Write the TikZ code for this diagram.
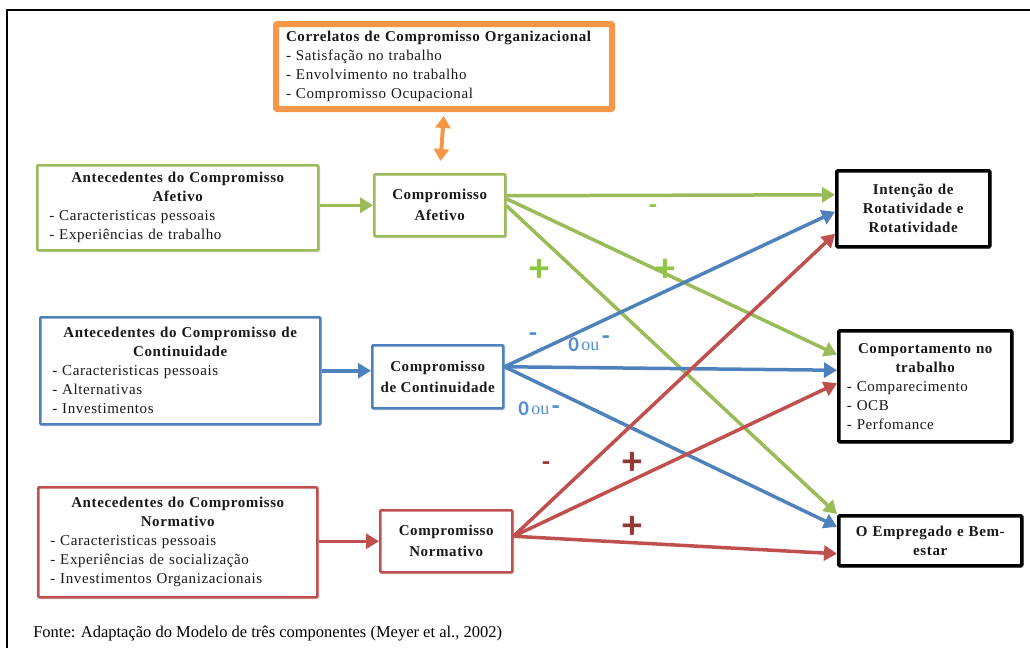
\documentclass[tikz,border=0pt]{standalone}
\usepackage{fontspec}
\setmainfont{Liberation Serif}
\newfontfamily\caixafont[LetterSpace=4]{Liberation Serif}
\newfontfamily\sinalfont[Numbers=Lining]{Carlito}
\usetikzlibrary{arrows.meta,shadows}

\definecolor{verde}{HTML}{9BBB59}
\definecolor{azul}{HTML}{4F81BD}
\definecolor{vermelho}{HTML}{C0504D}
\definecolor{laranja}{HTML}{F79646}
\definecolor{verdesinal}{HTML}{8DC63F}
\definecolor{azulsinal}{HTML}{558ED5}
\definecolor{vermelhosinal}{HTML}{953735}

\tikzset{
  caixa/.style={draw,line width=2.5pt,fill=white,rounded corners=1pt,anchor=north west,
    inner xsep=12pt,inner ysep=0pt,align=left,text=black!90,
    drop shadow={shadow xshift=2pt,shadow yshift=-2pt,opacity=.25},
    font=\caixafont\fontsize{15}{19}\selectfont},
  compbox/.style={caixa,align=center,inner xsep=2pt,font=\caixafont\bfseries\fontsize{15}{21}\selectfont},
  saida/.style={caixa,draw=black,line width=3.5pt,inner xsep=8pt},
  seta/.style={line width=3.5pt,-{Triangle[length=13pt,width=15pt]}},
  sinal/.style={inner sep=0pt,font=\sinalfont\bfseries\fontsize{26}{26}\selectfont},
  mais/.style={sinal,font=\sinalfont\bfseries\fontsize{40}{40}\selectfont},
  zeroou/.style={inner sep=0pt,text=azulsinal}
}

\begin{document}
\begin{tikzpicture}[x=1pt,y=-1pt,line width=.5pt]
\path[use as bounding box] (0,0) rectangle (1030,648);
\draw[line width=2pt] (7,648) -- (7,10) -- (1030,10);

% correlatos
\node[caixa,draw=laranja,line width=6pt,text width=316,inner xsep=10pt,minimum height=85] (correlatos) at (273,21)
  {\textbf{Correlatos de Compromisso Organizacional}\\- Satisfação no trabalho\\- Envolvimento no trabalho\\- Compromisso Ocupacional};

% antecedentes
\node[caixa,draw=verde,text width=257,minimum height=85] (antafetivo) at (36,164)
  {{\centering\bfseries Antecedentes do Compromisso\\Afetivo\par}- Caracteristicas pessoais\\- Experiências de trabalho};
\node[caixa,draw=azul,text width=256,minimum height=107] (antcontinuidade) at (39,316)
  {{\centering\bfseries Antecedentes do Compromisso de\\Continuidade\par}- Caracteristicas pessoais\\- Alternativas\\- Investimentos};
\node[caixa,draw=vermelho,text width=255,minimum height=110] (antnormativo) at (37,486)
  {{\centering\bfseries Antecedentes do Compromisso\\Normativo\par}- Caracteristicas pessoais\\- Experiências de socialização\\- Investimentos Organizacionais};

% componentes
\node[compbox,draw=verde,minimum width=131,minimum height=62] (afetivo) at (373,173) {Compromisso\\Afetivo};
\node[compbox,draw=azul,minimum width=131,minimum height=63] (continuidade) at (371,344) {Compromisso\\de Continuidade};
\node[compbox,draw=vermelho,minimum width=132,minimum height=62] (normativo) at (379,509) {Compromisso\\Normativo};

% consequencias
\node[saida,align=center,text width=137,minimum height=76,font=\caixafont\bfseries\fontsize{15}{19}\selectfont] (intencao) at (835,169)
  {Intenção de\\Rotatividade e\\Rotatividade};
\node[saida,text width=157,minimum height=111] (comportamento) at (837,329)
  {{\centering\bfseries Comportamento no\\trabalho\par}- Comparecimento\\- OCB\\- Perfomance};
\node[saida,align=center,text width=167,minimum height=50,font=\caixafont\bfseries\fontsize{15}{19}\selectfont] (empregado) at (837,514)
  {O Empregado e Bem-\\estar};

% setas de entrada
\draw[seta,line width=4pt,laranja,{Triangle[length=12pt,width=15pt]}-{Triangle[length=12pt,width=15pt]},shorten <=4pt,shorten >=12pt] (correlatos.south) -- (afetivo.north);
\draw[seta,verde] (antafetivo.east |- afetivo.west) -- (afetivo.west);
\draw[seta,azul] (antcontinuidade.east) -- (antcontinuidade.east -| continuidade.west);
\draw[seta,vermelho] (antnormativo.east |- normativo.west) -- (normativo.west);

% setas de saida
\draw[seta,verde] ([yshift=9.5pt]afetivo.east) -- ([yshift=14pt]intencao.west);
\draw[seta,verde] ([yshift=6.5pt]afetivo.east) -- ([yshift=31.5pt]comportamento.west);
\draw[seta,verde] ([yshift=-.5pt]afetivo.east) -- (empregado.north west);
\draw[seta,azul] ([yshift=10pt]continuidade.east) -- ([yshift=-3pt]intencao.west);
\draw[seta,azul] ([yshift=10pt]continuidade.east) -- ([yshift=16pt]comportamento.west);
\draw[seta,azul] ([yshift=10pt]continuidade.east) -- ([yshift=14pt]empregado.west);
\draw[seta,vermelho] ([yshift=5pt]normativo.east) -- ([yshift=-25pt]intencao.west);
\draw[seta,vermelho] ([yshift=5pt]normativo.east) -- ([yshift=3pt]comportamento.west);
\draw[seta,vermelho] ([yshift=5pt]normativo.east) -- ([yshift=-13pt]empregado.west);

% sinais
\node[sinal,text=verdesinal] (sinalafint) at (653,209) {-};
\node[mais,text=verdesinal] (sinalafemp) at (539,270) {+};
\node[mais,text=verdesinal] (sinalafcomp) at (665,270) {+};
\node[sinal,text=azulsinal] (sinalcontint) at (533,337) {-};
\node[zeroou,anchor=west] (zeroouint) at (568,344)
  {{\sinalfont\bfseries\fontsize{21}{21}\selectfont 0} \raisebox{1pt}{\fontsize{18}{18}\selectfont ou} \raisebox{7pt}{\sinalfont\bfseries\fontsize{26}{26}\selectfont -}};
\node[zeroou,anchor=west] (zerooucomp) at (518,409)
  {{\sinalfont\bfseries\fontsize{21}{21}\selectfont 0} \raisebox{1pt}{\fontsize{18}{18}\selectfont ou} \raisebox{1pt}{\sinalfont\bfseries\fontsize{26}{26}\selectfont -}};
\node[sinal,text=vermelhosinal] (sinalnormint) at (546,466) {-};
\node[mais,text=vermelhosinal] (sinalnormcomp) at (632,463) {+};
\node[mais,text=vermelhosinal] (sinalnormemp) at (632,527) {+};

\node[anchor=west,inner sep=0pt,font=\fontsize{16.5}{18}\selectfont] (fonte) at (33,634)
  {Fonte: Adaptação do Modelo de três componentes (Meyer et al., 2002)};
\end{tikzpicture}
\end{document}
